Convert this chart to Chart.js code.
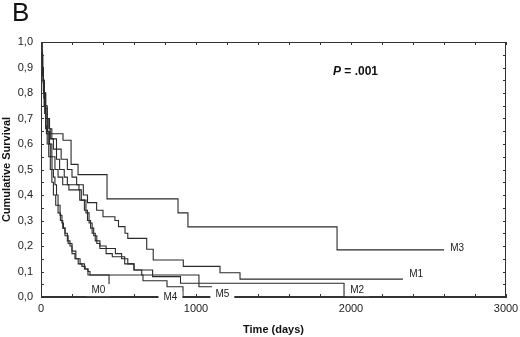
<!DOCTYPE html>
<html><head><meta charset="utf-8">
<script src="https://cdn.jsdelivr.net/npm/chart.js@4.4.1/dist/chart.umd.min.js"></script>
<style>html,body{margin:0;padding:0;background:#fff}canvas{display:block}</style>
</head><body>
<canvas id="c" width="520" height="337"></canvas>
<script>
// ---- data ----
const groups = ['M0', 'M1', 'M2', 'M3', 'M4', 'M5'];
const m0Days = [0, 5, 10, 15, 20, 25, 30, 40, 50, 60, 71, 80, 90, 100, 110, 123, 135, 145, 155, 170, 187, 200, 219, 240, 264, 285, 303, 316, 439];
const m0Surv = [1, .95, .9, .85, .8, .75, .7, .65, .6, .55, .5, .47, .44, .4, .36, .32, .29, .27, .25, .22, .2, .17, .15, .13, .12, .11, .1, .086, 0];
const m1Days = [0, 5, 10, 15, 20, 30, 40, 55, 70, 100, 130, 170, 200, 230, 273, 300, 359, 400, 477, 500, 542, 560, 682, 724, 918, 1155, 1284, 2335];
const m1Surv = [1, .95, .9, .85, .8, .74, .7, .66, .62, .58, .54, .5, .47, .44, .4, .37, .34, .315, .3, .276, .25, .23, .187, .145, .12, .095, .07, .07];
const m2Days = [0, 5, 10, 15, 20, 30, 40, 50, 60, 80, 100, 120, 150, 170, 245, 260, 280, 300, 320, 340, 360, 380, 420, 460, 540, 600, 720, 900, 1955];
const m2Surv = [1, .95, .9, .85, .8, .75, .7, .66, .62, .58, .54, .5, .47, .44, .42, .38, .34, .3, .27, .24, .21, .19, .17, .158, .13, .106, .08, .054, 0];
const m3Days = [0, 5, 10, 15, 20, 25, 30, 35, 142, 194, 239, 426, 884, 948, 1910, 2600];
const m3Surv = [1, .96, .9, .84, .78, .72, .67, .64, .615, .52, .48, .385, .33, .275, .185, .185];
const m4Days = [0, 5, 10, 15, 20, 25, 30, 40, 50, 60, 70, 80, 95, 110, 125, 140, 155, 175, 200, 225, 252, 280, 303, 658, 813, 916];
const m4Surv = [1, .95, .9, .84, .78, .72, .66, .6, .55, .5, .45, .4, .36, .33, .3, .27, .24, .21, .18, .15, .13, .11, .086, .064, .04, 0];
const m5Days = [0, 5, 10, 15, 20, 30, 40, 55, 70, 90, 110, 140, 180, 250, 290, 310, 330, 350, 380, 420, 480, 520, 560, 600, 650, 1019, 1103];
const m5Surv = [1, .93, .87, .81, .75, .7, .65, .6, .55, .5, .47, .44, .42, .38, .33, .29, .25, .22, .2, .19, .17, .15, .13, .106, .086, .04, .04];
const xTickValues = [0, 1000, 2000, 3000];
const yTickValues = [0, 0.1, 0.2, 0.3, 0.4, 0.5, 0.6, 0.7, 0.8, 0.9, 1.0];
const pText = '.001';

// ---- annotation anchors (data space) ----
const labelAnchors = {
  M0: [370, 0.027], M1: [2420, 0.09], M2: [2040, 0.027],
  M3: [2685, 0.19], M4: [835, 0.0], M5: [1170, 0.012]
};

const seriesDays = [m0Days, m1Days, m2Days, m3Days, m4Days, m5Days];
const seriesSurv = [m0Surv, m1Surv, m2Surv, m3Surv, m4Surv, m5Surv];

const datasets = groups.map((g, i) => ({
  label: g,
  data: seriesDays[i].map((d, j) => ({ x: d, y: seriesSurv[i][j] })),
  stepped: true,
  borderColor: '#2a2a2a',
  borderWidth: 1.1,
  pointRadius: 0,
  fill: false
}));

const FONT = 'Arial, "Liberation Sans", sans-serif';

const decor = {
  id: 'decor',
  afterDraw(chart) {
    const { ctx, chartArea: a, scales: { x, y } } = chart;
    ctx.save();
    ctx.strokeStyle = '#333';
    ctx.lineWidth = 1;
    ctx.strokeRect(a.left + 0.5, a.top + 0.5, a.right - a.left - 1, a.bottom - a.top - 1);
    ctx.beginPath();
    for (let v = 0; v <= 3000; v += 200) {
      const px = Math.round(x.getPixelForValue(v)) + 0.5;
      ctx.moveTo(px, a.top); ctx.lineTo(px, a.top + 3);
      ctx.moveTo(px, a.bottom); ctx.lineTo(px, a.bottom - 3);
    }
    for (let k = 0; k <= 20; k++) {
      const py = Math.round(y.getPixelForValue(k * 0.05)) + 0.5;
      ctx.moveTo(a.left, py); ctx.lineTo(a.left + 3, py);
      ctx.moveTo(a.right, py); ctx.lineTo(a.right - 3, py);
    }
    ctx.stroke();
    ctx.font = '10px ' + FONT;
    ctx.textAlign = 'center';
    ctx.textBaseline = 'middle';
    groups.forEach(g => {
      const [d, s] = labelAnchors[g];
      const px = x.getPixelForValue(d), py = y.getPixelForValue(s);
      const w = ctx.measureText(g).width + 10;
      ctx.fillStyle = '#fff';
      ctx.fillRect(px - w / 2, py - 6, w, 12);
      ctx.fillStyle = '#222';
      ctx.fillText(g, px, py);
    });
    ctx.font = '26px ' + FONT;
    ctx.textAlign = 'left';
    ctx.textBaseline = 'alphabetic';
    ctx.fillStyle = '#111';
    ctx.fillText('B', 12, 21);
    ctx.font = 'italic bold 12px ' + FONT;
    ctx.fillText('P', 333, 75);
    const pw = ctx.measureText('P').width;
    ctx.font = 'bold 12px ' + FONT;
    ctx.fillText(' = ' + pText, 333 + pw, 75);
    ctx.restore();
  }
};

new Chart(document.getElementById('c'), {
  type: 'line',
  data: { datasets },
  options: {
    responsive: false,
    animation: false,
    layout: { padding: { left: 0, top: 42, right: 14, bottom: 0 } },
    plugins: { legend: { display: false }, tooltip: { enabled: false } },
    scales: {
      x: {
        type: 'linear', min: 0, max: 3000,
        afterBuildTicks: s => { s.ticks = xTickValues.map(v => ({ value: v })); },
        afterFit: s => { s.height = 40; s.paddingRight = 0; s.paddingLeft = 0; },
        grid: { display: false, drawTicks: false },
        border: { display: true, color: '#333' },
        ticks: { color: '#222', font: { family: FONT, size: 11 }, padding: 5, maxRotation: 0,
          callback: v => String(v) },
        title: { display: true, text: 'Time (days)', color: '#111', font: { family: FONT, size: 11, weight: 'bold' }, padding: { top: 3, bottom: 0 } }
      },
      y: {
        type: 'linear', min: 0, max: 1,
        afterBuildTicks: s => { s.ticks = yTickValues.map(v => ({ value: v })); },
        afterFit: s => { s.width = 41; s.paddingTop = 0; s.paddingBottom = 0; },
        grid: { display: false, drawTicks: false },
        border: { display: true, color: '#333' },
        ticks: { color: '#222', font: { family: FONT, size: 11 }, padding: 8,
          callback: v => v.toFixed(1).replace('.', ',') },
        title: { display: true, text: 'Cumulative Survival', color: '#111', font: { family: FONT, size: 11, weight: 'bold' }, padding: { top: 0, bottom: 0 } }
      }
    }
  },
  plugins: [decor]
});
</script>
</body></html>
